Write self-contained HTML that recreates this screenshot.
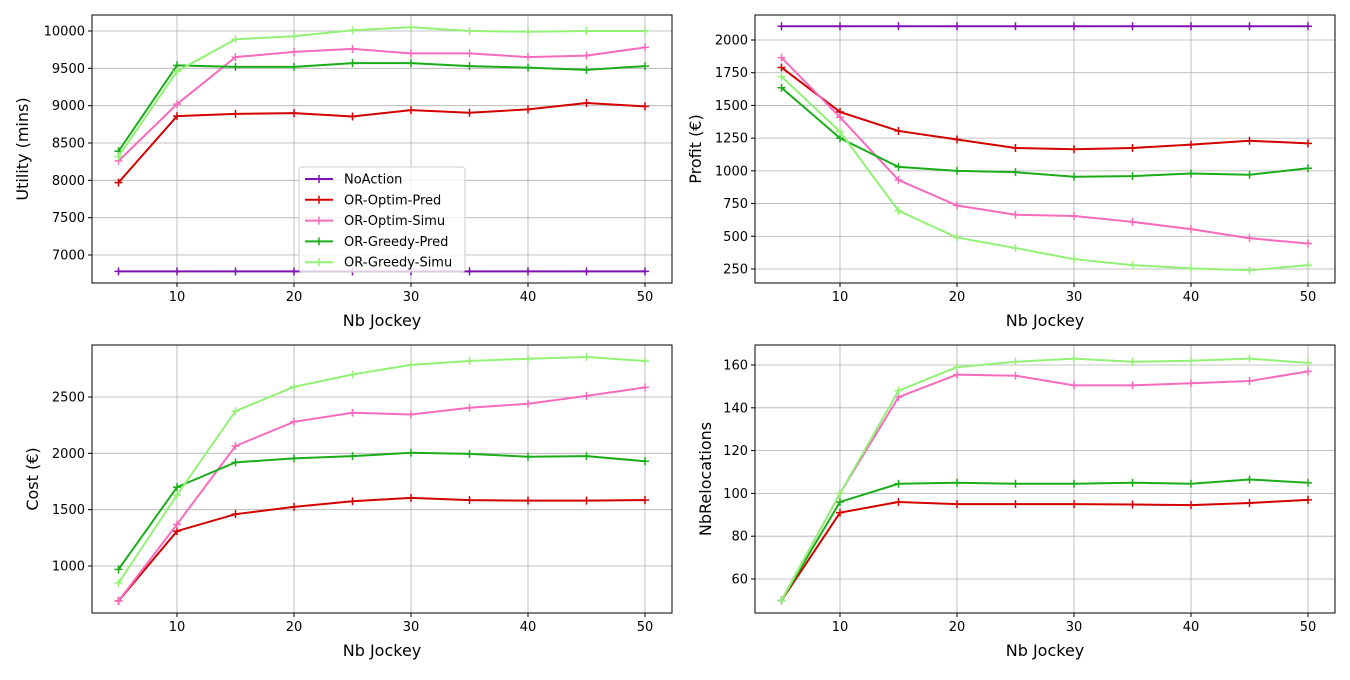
<!DOCTYPE html>
<html><head><meta charset="utf-8"><style>
html,body{margin:0;padding:0;background:#fff;}
svg text{font-family:"DejaVu Sans","Liberation Sans",sans-serif;fill:#000;}
</style></head><body>
<svg id="s" width="1350" height="675" xmlns="http://www.w3.org/2000/svg"></svg>
<script>
const C={na:"#7f11b3",op:"#d40000",os:"#f76bbd",gp:"#1aad1a",gs:"#93f176"};
const X=[5,10,15,20,25,30,35,40,45,50];
const P=[
{bx:92,by:15,w:580,h:268,x10:177,x50:645,y0v:10000,y0p:31,y1v:7000,y1p:255,ticks:[7000,7500,8000,8500,9000,9500,10000],yl:"Utility (mins)",ylx:22,
 s:{na:Array(10).fill(6780),op:[7970,8860,8890,8900,8855,8940,8905,8950,9035,8990],os:[8260,9020,9650,9720,9760,9700,9700,9650,9670,9780],gp:[8390,9540,9520,9520,9570,9570,9530,9510,9480,9530],gs:[8320,9460,9890,9930,10010,10050,10000,9990,10000,10000]}},
{bx:755,by:15,w:580,h:268,x10:840,x50:1308,y0v:2000,y0p:40,y1v:250,y1p:269,ticks:[250,500,750,1000,1250,1500,1750,2000],yl:"Profit (€)",ylx:695,
 s:{na:Array(10).fill(2105),op:[1790,1450,1305,1240,1175,1165,1175,1200,1230,1210],os:[1865,1410,930,735,665,655,610,555,485,445],gp:[1635,1250,1030,1000,990,955,960,980,970,1020],gs:[1720,1300,695,490,410,325,280,255,240,280]}},
{bx:92,by:345,w:580,h:268,x10:177,x50:645,y0v:2500,y0p:397,y1v:1000,y1p:566,ticks:[1000,1500,2000,2500],yl:"Cost (€)",ylx:32,
 s:{op:[690,1310,1460,1525,1575,1605,1585,1580,1580,1585],os:[690,1370,2065,2280,2360,2345,2405,2440,2510,2585],gp:[970,1700,1920,1955,1975,2005,1995,1970,1975,1930],gs:[850,1630,2375,2590,2700,2785,2820,2840,2855,2820]}},
{bx:755,by:345,w:580,h:268,x10:840,x50:1308,y0v:160,y0p:365,y1v:60,y1p:579,ticks:[60,80,100,120,140,160],yl:"NbRelocations",ylx:705,
 s:{op:[50,91,96,95,95,95,94.8,94.5,95.5,97],os:[50,100,145,155.5,155,150.5,150.5,151.5,152.5,157],gp:[50,96,104.5,105,104.5,104.5,105,104.5,106.5,105],gs:[50,100,148,159,161.5,163,161.5,162,163,161]}}
];
let o="";
for(const p of P){
 const fx=v=>p.x10+(v-10)*(p.x50-p.x10)/40;
 const fy=v=>p.y0p+(v-p.y0v)*(p.y1p-p.y0p)/(p.y1v-p.y0v);
 for(const t of [10,20,30,40,50]){const x=fx(t);
  o+=`<line x1="${x}" y1="${p.by}" x2="${x}" y2="${p.by+p.h}" stroke="#b0b0b0" stroke-width="0.8"/>`;
  o+=`<line x1="${x}" y1="${p.by+p.h}" x2="${x}" y2="${p.by+p.h+4}" stroke="#000"/>`;
  o+=`<text x="${x}" y="${p.by+p.h+18}" font-size="13" text-anchor="middle">${t}</text>`;}
 for(const t of p.ticks){const y=fy(t);
  o+=`<line x1="${p.bx}" y1="${y}" x2="${p.bx+p.w}" y2="${y}" stroke="#b0b0b0" stroke-width="0.8"/>`;
  o+=`<line x1="${p.bx-4}" y1="${y}" x2="${p.bx}" y2="${y}" stroke="#000"/>`;
  o+=`<text x="${p.bx-7}" y="${y+4.5}" font-size="13" text-anchor="end">${t}</text>`;}
 for(const k of ["na","op","os","gp","gs"]){if(!p.s[k])continue;
  const pts=p.s[k].map((v,i)=>[fx(X[i]),fy(v)]);
  o+=`<polyline points="${pts.map(a=>a.join(",")).join(" ")}" fill="none" stroke="${C[k]}" stroke-width="2"/>`;
  for(const [x,y] of pts)o+=`<path d="M${x-4},${y}H${x+4}M${x},${y-4}V${y+4}" stroke="${C[k]}" stroke-width="1.5"/>`;}
 o+=`<rect x="${p.bx}" y="${p.by}" width="${p.w}" height="${p.h}" fill="none" stroke="#000" stroke-width="1"/>`;
 o+=`<text x="${p.bx+p.w/2}" y="${p.by+p.h+43}" font-size="16" text-anchor="middle">Nb Jockey</text>`;
 const cy=p.by+p.h/2;
 o+=`<text x="${p.ylx}" y="${cy}" font-size="16" text-anchor="middle" transform="rotate(-90 ${p.ylx} ${cy})" dy="6">${p.yl}</text>`;
}
o+=`<rect x="299" y="167" width="166" height="105" rx="3" fill="#fff" fill-opacity="0.8" stroke="#ccc"/>`;
const L=[["na","NoAction"],["op","OR-Optim-Pred"],["os","OR-Optim-Simu"],["gp","OR-Greedy-Pred"],["gs","OR-Greedy-Simu"]];
L.forEach(([k,n],i)=>{const y=179+i*20.8;
 o+=`<line x1="305" y1="${y}" x2="333" y2="${y}" stroke="${C[k]}" stroke-width="2"/><path d="M315,${y}H323M319,${y-4}V${y+4}" stroke="${C[k]}" stroke-width="1.5"/>`;
 o+=`<text x="344" y="${y+4.5}" font-size="13">${n}</text>`;});
document.getElementById("s").innerHTML=o;
</script>
</body></html>
